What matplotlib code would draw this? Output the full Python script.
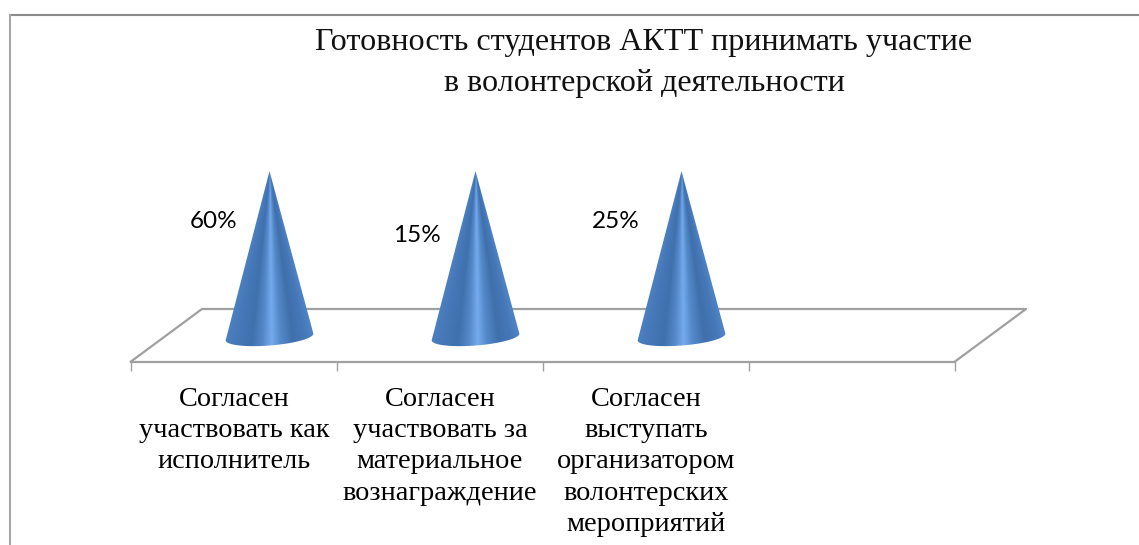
import numpy as np
import matplotlib
matplotlib.use('Agg')
import matplotlib.pyplot as plt
from matplotlib.colors import LinearSegmentedColormap
from matplotlib.lines import Line2D
from matplotlib.patches import PathPatch
from matplotlib.path import Path

title = 'Готовность студентов АКТТ принимать участие\nв волонтерской деятельности'
categories = ['Согласен\nучаствовать как\nисполнитель',
              'Согласен\nучаствовать за\nматериальное\nвознаграждение',
              'Согласен\nвыступать\nорганизатором\nволонтерских\nмероприятий',
              '']
# all three cones are drawn at the same height in the original
cone_heights = [100, 100, 100]
value_labels = ['60%', '15%', '25%']

W, H = 1139, 545
GRAY = '#a0a0a0'

# layout, in pixels of the picture
x0, x1 = 131, 955
y_front, y_back, y_base, y_top = 361.5, 309, 337, 171
depth = 71
half_w, half_h, tilt = 44, 8.5, np.radians(4.5)
label_px = [(-56, 115), (-59, 102), (-66, 115)]

px_x = 4 / (x1 - x0)
px_y = 100 / (y_base - y_top)

fig = plt.figure(figsize=(W / 100, H / 100), dpi=100)
ax = fig.add_axes([x0 / W, 1 - y_front / H, (x1 - x0) / W, (y_front - y_top) / H])
ax.set_xlim(0, 4)
ymin = -(y_front - y_base) * px_y
ax.set_ylim(ymin, 100)
ax.patch.set_visible(False)

# chart frame, cut by the picture on the right and at the bottom
fig.add_artist(Line2D([9.5 / W, 1], [1 - 15 / H, 1 - 15 / H], color='#8c8c8c', lw=1.5))
fig.add_artist(Line2D([9.5 / W, 9.5 / W], [0, 1 - 15 / H], color='#a8a8a8', lw=1.5))

# floor
dx = depth * px_x
yb = (y_base - y_back) * px_y
ax.plot([0, dx, 4 + dx, 4], [ymin, yb, yb, ymin], color=GRAY, lw=1.6, clip_on=False, zorder=1)

for s in ['top', 'left', 'right']:
    ax.spines[s].set_visible(False)
ax.spines['bottom'].set_color(GRAY)
ax.spines['bottom'].set_linewidth(1.6)
ax.set_yticks([])
ax.set_xticks(range(5))
ax.set_xticklabels([])
ax.tick_params(axis='x', which='major', length=6.5, width=1, color=GRAY, direction='out')
ax.set_xticks(np.arange(4) + 0.5, minor=True)
ax.set_xticklabels(categories, minor=True, family='Liberation Serif', fontsize=20.4,
                   linespacing=1.34, color='black')
ax.tick_params(axis='x', which='minor', length=0, pad=18)

shade = LinearSegmentedColormap.from_list('cone', [
    (0.0, '#4b80c2'), (0.16, '#4576b6'), (0.3, '#3f71ae'), (0.42, '#5488c8'),
    (0.52, '#75aaee'), (0.62, '#5489c9'), (0.76, '#3f70ac'), (0.9, '#4678b8'),
    (1.0, '#4e84c6')])

for i, h in enumerate(cone_heights):
    cx = i + 0.5 + dx / 2
    cone_px = h / px_y

    # outline in pixel offsets from the base centre, then into data units
    t = np.linspace(np.pi, 2 * np.pi, 60)
    ex = half_w * np.cos(t)
    ey = half_h * np.sin(t)
    ox = ex * np.cos(tilt) - ey * np.sin(tilt)
    oy = ex * np.sin(tilt) + ey * np.cos(tilt)
    verts = np.column_stack([np.r_[0, ox, 0] * px_x + cx, np.r_[cone_px, oy, cone_px] * px_y])
    codes = [Path.MOVETO] + [Path.LINETO] * (len(verts) - 2) + [Path.CLOSEPOLY]
    clip = PathPatch(Path(verts, codes), fc='none', ec='none', transform=ax.transData)
    ax.add_patch(clip)

    # conic shading: colour follows the position across the cone's width at each height
    gx, gy = np.meshgrid(np.arange(-48, 48.5, 0.5), np.arange(-12, cone_px + 1, 0.5))
    width = half_w * np.clip(1 - gy / cone_px, 0.01, None)
    u = np.clip(gx / width, -1, 1) * 0.5 + 0.5
    im = ax.imshow(shade(u), origin='lower', aspect='auto', interpolation='bilinear', zorder=3,
                   extent=[cx - 48 * px_x, cx + 48 * px_x, -12 * px_y, (cone_px + 1) * px_y])
    im.set_clip_path(clip)

    ax.annotate(value_labels[i], xy=(cx, 0), xytext=(label_px[i][0] * 0.72, label_px[i][1] * 0.72),
                textcoords='offset points', ha='center', va='center',
                family='Lato', fontsize=17.5, color='black', zorder=4)

ax.set_xlim(0, 4)
ax.set_ylim(ymin, 100)

fig.text(644 / W, 1 - 28 / H, title, ha='center', va='top', family='Liberation Serif',
         fontsize=23.1, linespacing=1.56, color='#111111')

plt.savefig('out.png', dpi=100)
